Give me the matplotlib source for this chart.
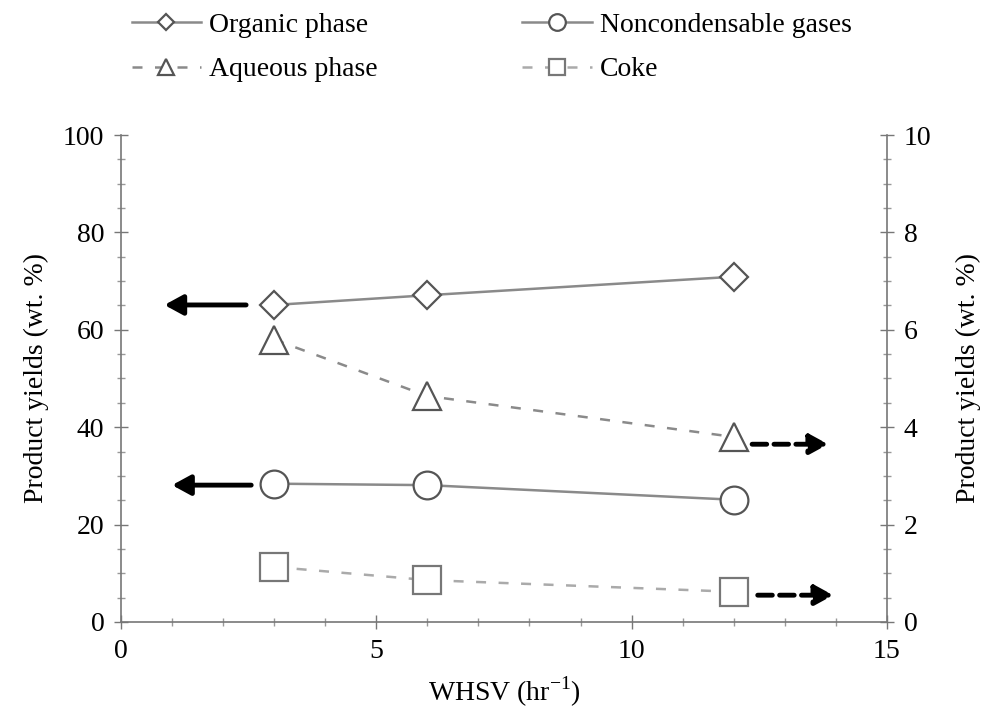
import matplotlib.pyplot as plt
from matplotlib.ticker import MultipleLocator

plt.rcParams['font.family'] = ['Liberation Serif', 'DejaVu Serif']
plt.rcParams['mathtext.fontset'] = 'custom'
plt.rcParams['mathtext.rm'] = 'Liberation Serif'

# data
whsv = [3, 6, 12]
organic = [65.1, 67.1, 70.9]          # left axis, wt.%
noncond = [28.4, 28.1, 25.1]          # left axis, wt.%
aqueous = [5.8, 4.64, 3.8]            # right axis, wt.%
coke = [1.13, 0.86, 0.62]             # right axis, wt.%

# axis indicator arrows (start, end) in data units
left_arrows = [((2.45, 65.1), (0.85, 65.1)), ((2.55, 28.1), (1.0, 28.1))]
right_arrows = [((12.36, 3.65), (13.85, 3.65)), ((12.47, 0.55), (13.95, 0.55))]

fig = plt.figure(figsize=(9.87, 7.14), dpi=100)
ax = fig.add_axes([0.1226, 0.1289, 0.776, 0.682])
ax2 = ax.twinx()

line_c = '#8a8a8a'
mk_c = '#555555'
ms = 20

h1, = ax.plot(whsv, organic, '-', color=line_c, lw=1.8, marker='D', ms=ms / 1.41,
              mfc='white', mec=mk_c, mew=1.6, label='Organic phase', zorder=3)
h2, = ax.plot(whsv, noncond, '-', color=line_c, lw=1.8, marker='o', ms=ms,
              mfc='white', mec=mk_c, mew=1.6, label='Noncondensable gases', zorder=3)
h3, = ax2.plot(whsv, aqueous, '--', color=line_c, lw=1.8, dashes=(4, 5), marker='^', ms=ms,
               mfc='white', mec=mk_c, mew=1.6, label='Aqueous phase', zorder=3)
h4, = ax2.plot(whsv, coke, '--', color='#aaaaaa', lw=1.8, dashes=(4, 5), marker='s', ms=ms,
               mfc='white', mec='#777777', mew=1.6, label='Coke', zorder=3)

head = '-|>,head_length=1.1,head_width=0.6'
for (x0, y0), (x1, y1) in left_arrows:
    ax.annotate('', xy=(x1, y1), xytext=(x0, y0),
                arrowprops=dict(arrowstyle=head, color='black', lw=3.5,
                                shrinkA=0, shrinkB=0))
for (x0, y0), (x1, y1) in right_arrows:
    ax2.annotate('', xy=(x1, y1), xytext=(x0, y0),
                 arrowprops=dict(arrowstyle=head, color='black', lw=3.5,
                                 ls=(0, (3, 1.5)), shrinkA=0, shrinkB=0))

ax.set_xlim(0, 15)
ax.set_ylim(0, 100)
ax2.set_ylim(0, 10)
ax.xaxis.set_major_locator(MultipleLocator(5))
ax.xaxis.set_minor_locator(MultipleLocator(1))
ax.yaxis.set_major_locator(MultipleLocator(20))
ax.yaxis.set_minor_locator(MultipleLocator(5))
ax2.yaxis.set_major_locator(MultipleLocator(2))
ax2.yaxis.set_minor_locator(MultipleLocator(0.5))

for a in (ax, ax2):
    for s in a.spines.values():
        s.set_visible(False)
ax.spines['left'].set_visible(True)
ax.spines['bottom'].set_visible(True)
ax2.spines['right'].set_visible(True)
for s in (ax.spines['left'], ax.spines['bottom'], ax2.spines['right']):
    s.set_color('#777777')
    s.set_linewidth(1.2)

ax.tick_params(which='major', direction='inout', length=10, width=1, color='#777777',
               labelsize=20, pad=7)
ax.tick_params(which='minor', direction='inout', length=6, width=1, color='#999999')
ax2.tick_params(which='major', direction='inout', length=10, width=1, color='#777777',
                labelsize=20, pad=7)
ax2.tick_params(which='minor', direction='inout', length=6, width=1, color='#999999')

ax.set_xlabel('WHSV (hr$^{-1}$)', fontsize=20, labelpad=8)
ax.set_ylabel('Product yields (wt. %)', fontsize=20, labelpad=10)
ax2.set_ylabel('Product yields (wt. %)', fontsize=20, labelpad=18, rotation=90)

fig.legend(handles=[h1, h3, h2, h4], ncol=2, frameon=False, fontsize=20,
           loc='upper left', bbox_to_anchor=(0.108, 1.018), markerscale=0.6,
           handlelength=2.5, handletextpad=0.3, columnspacing=5.2, labelspacing=0.7)

fig.savefig('out.png', dpi=100)
